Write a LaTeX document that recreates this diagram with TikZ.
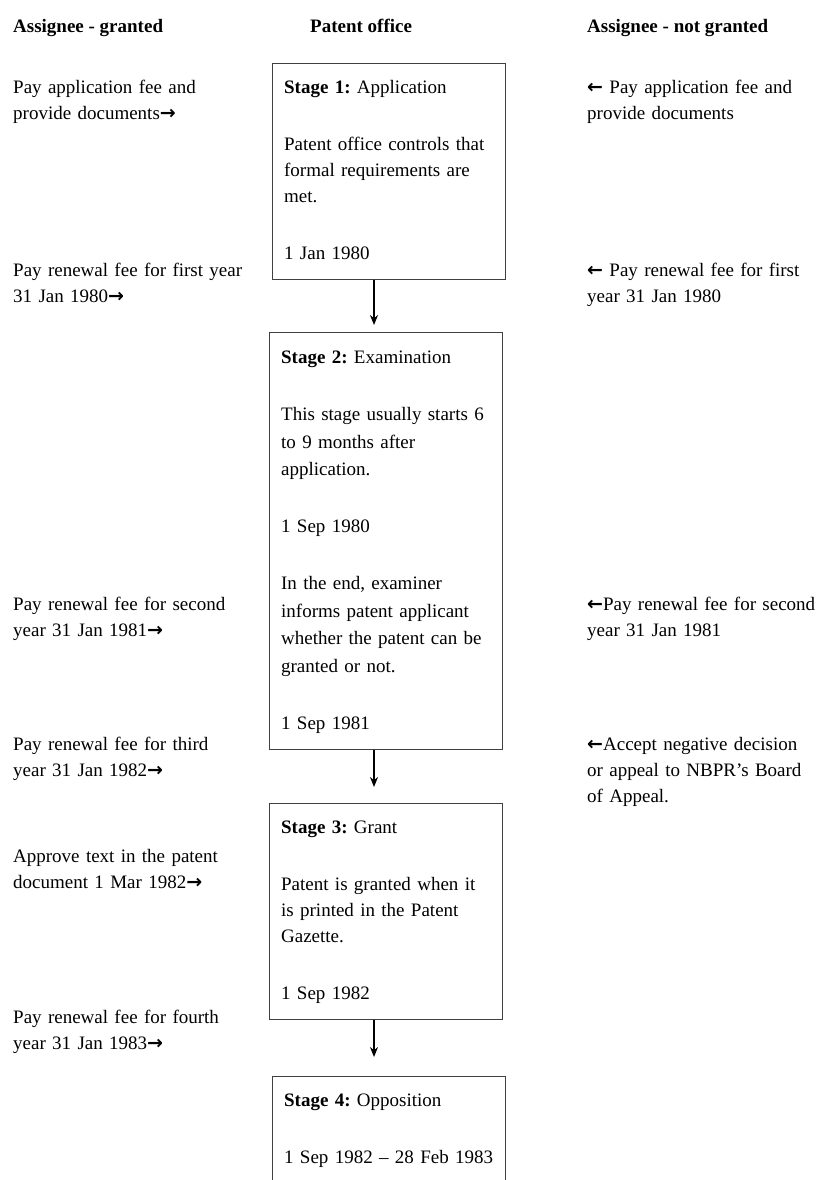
\documentclass[tikz,border=0pt]{standalone}
\usepackage{fontspec}
\setmainfont{Liberation Serif}
\newfontfamily\arrowfont{DejaVu Sans}
\usetikzlibrary{arrows.meta}
\frenchspacing

\newcommand{\stagegap}{\\[\dimexpr57pt-\baselineskip\relax]}
\newcommand{\rarr}{{\arrowfont\bfseries →}}
\newcommand{\larr}{{\arrowfont\bfseries ←}}

\begin{document}
\begin{tikzpicture}[x=1pt,y=-1pt,
    every node/.style={font=\fontsize{19}{26}\selectfont, inner sep=0pt},
    heading/.style={anchor=base west, font=\fontsize{19}{26}\selectfont\bfseries},
    side/.style={anchor=north west, text width=240pt, align=left},
    stagebox/.style={draw=black!75, line width=1.3pt, anchor=north west,
        text width=210pt, align=left, inner xsep=11.5pt, inner ysep=12pt},
    flow/.style={-{Stealth[length=10pt,width=8pt]}, line width=1.2pt}]
    \useasboundingbox (0,0) rectangle (817,1180);

    % column heads
    \node[heading] (hgranted) at (13,33) {Assignee - granted};
    \node[heading] (hoffice) at (310,33) {Patent office};
    \node[heading] (hnot) at (587,33) {Assignee - not granted};

    % patent office stages
    \node[stagebox] (s1) at (272,63) {\strut\textbf{Stage 1:} Application\stagegap
        Patent office controls that\\ formal requirements are\\ met.\stagegap
        1 Jan 1980\strut};
    \node[stagebox, font=\fontsize{19}{27.5}\selectfont] (s2) at (269,332) {\strut\textbf{Stage 2:} Examination\stagegap
        This stage usually starts 6\\ to 9 months after\\ application.\stagegap
        1 Sep 1980\stagegap
        In the end, examiner\\ informs patent applicant\\ whether the patent can be\\ granted or not.\stagegap
        1 Sep 1981\strut};
    \node[stagebox] (s3) at (269,803) {\strut\textbf{Stage 3:} Grant\stagegap
        Patent is granted when it\\ is printed in the Patent\\ Gazette.\stagegap
        1 Sep 1982\strut};
    \node[stagebox] (s4) at (272,1076) {\strut\textbf{Stage 4:} Opposition\stagegap
        1 Sep 1982 – 28 Feb 1983\strut};

    \coordinate (t1) at (374,325);
    \coordinate (t2) at (374,787);
    \coordinate (t3) at (374,1057);
    \draw[flow] (s1.south -| t1) -- (t1);
    \draw[flow] (s2.south -| t2) -- (t2);
    \draw[flow] (s3.south -| t3) -- (t3);

    % assignee - granted
    \node[side] (g1) at (13,75) {\strut Pay application fee and\\ provide documents\rarr};
    \node[side] (g2) at (13,258) {\strut Pay renewal fee for first year\\ 31 Jan 1980\rarr};
    \node[side] (g3) at (13,592) {\strut Pay renewal fee for second\\ year 31 Jan 1981\rarr};
    \node[side] (g4) at (13,732) {\strut Pay renewal fee for third\\ year 31 Jan 1982\rarr};
    \node[side] (g5) at (13,844) {\strut Approve text in the patent\\ document 1 Mar 1982\rarr};
    \node[side] (g6) at (13,1005) {\strut Pay renewal fee for fourth\\ year 31 Jan 1983\rarr};

    % assignee - not granted
    \node[side] (n1) at (587,75) {\strut\larr{} Pay application fee and\\ provide documents};
    \node[side] (n2) at (587,258) {\strut\larr{} Pay renewal fee for first\\ year 31 Jan 1980};
    \node[side] (n3) at (587,592) {\strut\larr Pay renewal fee for second\\ year 31 Jan 1981};
    \node[side] (n4) at (587,732) {\strut\larr Accept negative decision\\ or appeal to NBPR's Board\\ of Appeal.};
\end{tikzpicture}
\end{document}
